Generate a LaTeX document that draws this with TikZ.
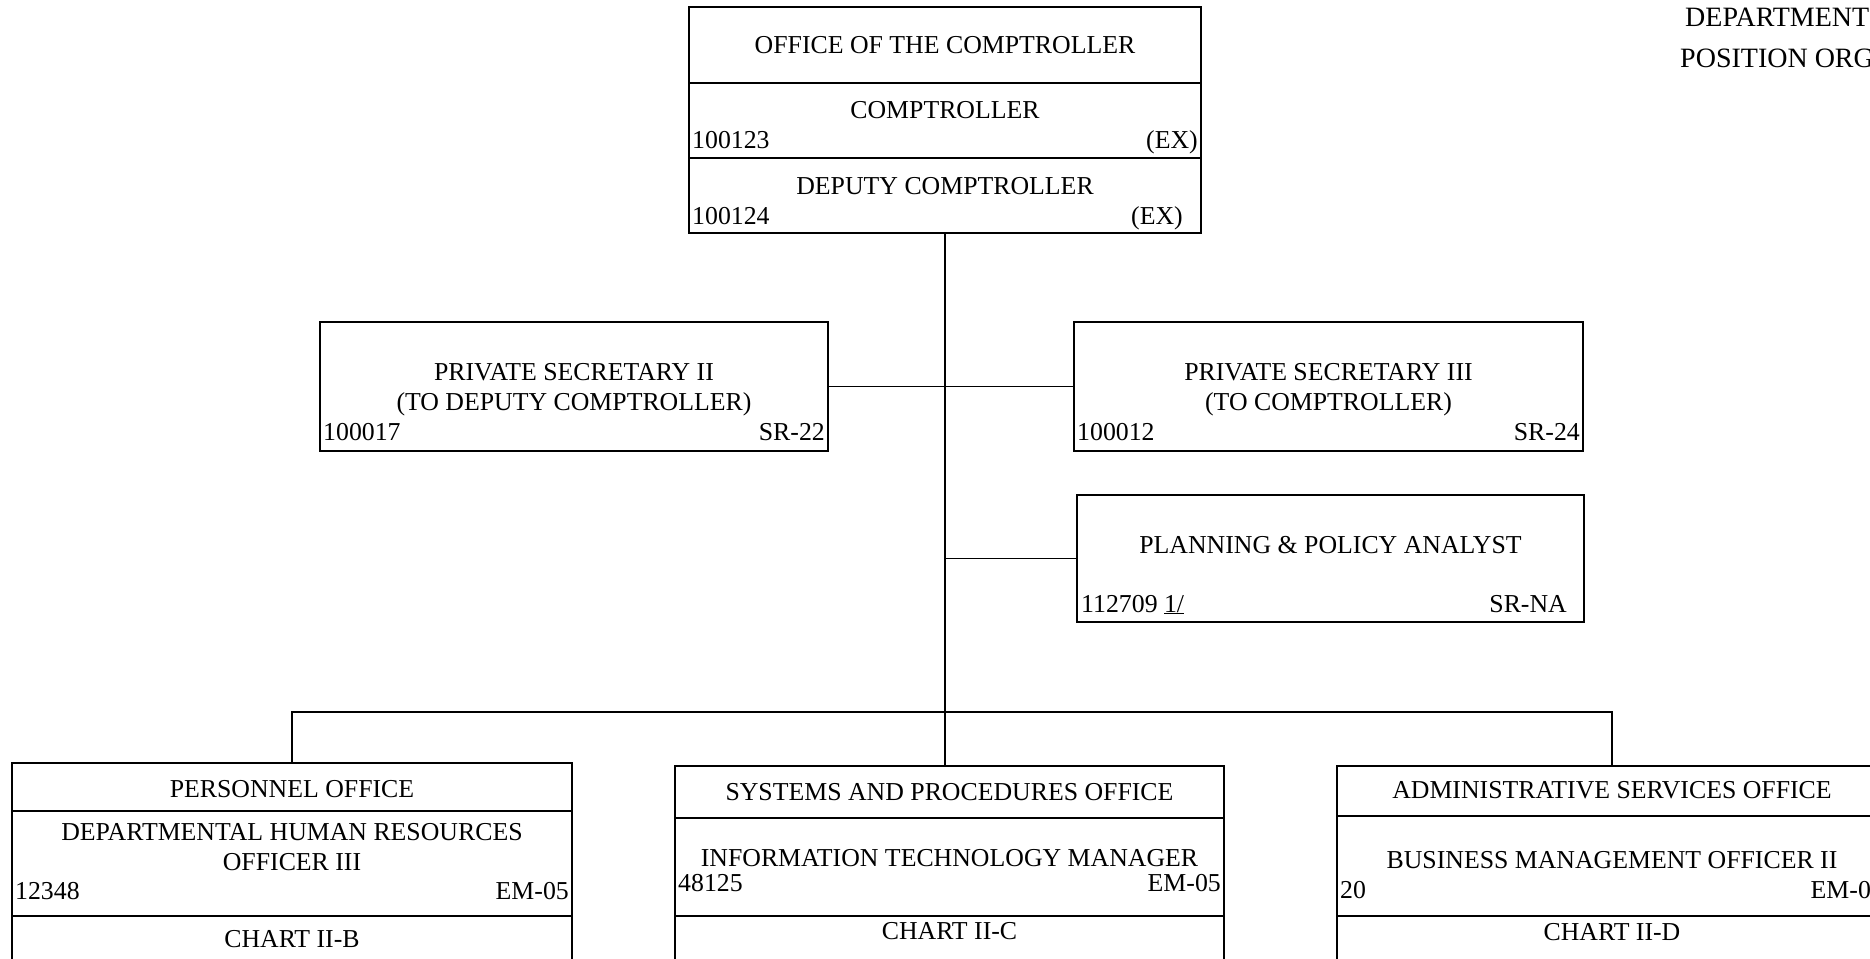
\documentclass[tikz,border=0pt]{standalone}
\usepackage{fontspec}
\setmainfont{Liberation Serif}
\usetikzlibrary{positioning}
\tikzstyle{block} = [rectangle, draw, line width=1.5pt, inner sep=0pt]
\tikzstyle{line} = [draw, line width=1.5pt]
\tikzstyle{txt} = [inner sep=0pt, anchor=base, font=\fontsize{25.8pt}{28pt}\selectfont]
\tikzstyle{code} = [txt, anchor=base west]
\tikzstyle{grade} = [txt, anchor=base east]
\tikzstyle{title} = [code, font=\fontsize{28pt}{30pt}\selectfont]

\begin{document}
\begin{tikzpicture}[x=1pt, y=-1pt]

    \useasboundingbox (0,0) rectangle (1870,958);
    \clip (0,0) rectangle (1870,958);

    % Place nodes
    \node [block, minimum width=512pt, minimum height=226pt] (office) at (945,120) {};
    \node [block, minimum width=508pt, minimum height=129pt] (sec2) at (574,386.5) {};
    \node [block, minimum width=509pt, minimum height=129pt] (sec3) at (1328.5,386.5) {};
    \node [block, minimum width=507pt, minimum height=127pt] (analyst) at (1330.5,558.5) {};
    \node [block, minimum width=560pt, minimum height=237pt] (personnel) at (292,881.5) {};
    \node [block, minimum width=549pt, minimum height=234pt] (systems) at (949.5,883) {};
    \node [block, minimum width=550pt, minimum height=234pt] (admin) at (1612,883) {};

    % Title
    \node [title] (dept) at (1685,27) {DEPARTMENT};
    \node [title] (chart) at (1680,67) {POSITION ORG};

    % Office of the comptroller
    \path [line] (office.west |- 0,83) -- (office.east |- 0,83);
    \path [line] (office.west |- 0,158) -- (office.east |- 0,158);
    \node [txt] (officeT) at (945,54) {OFFICE OF THE COMPTROLLER};
    \node [txt] (compT) at (945,118) {COMPTROLLER};
    \node [code] (compN) at (692,148) {100123};
    \node [grade] (compG) at (1198,148) {(EX)};
    \node [txt] (deputyT) at (945,194) {DEPUTY COMPTROLLER};
    \node [code] (deputyN) at (692,224) {100124};
    \node [grade] (deputyG) at (1183,224) {(EX)};

    % Private secretaries
    \node [txt] (sec2T) at (574,380) {PRIVATE SECRETARY II};
    \node [txt] (sec2S) at (574,410) {(TO DEPUTY COMPTROLLER)};
    \node [code] (sec2N) at (323,440) {100017};
    \node [grade] (sec2G) at (825,440) {SR-22};
    \node [txt] (sec3T) at (1328.5,380) {PRIVATE SECRETARY III};
    \node [txt] (sec3S) at (1328.5,410) {(TO COMPTROLLER)};
    \node [code] (sec3N) at (1077,440) {100012};
    \node [grade] (sec3G) at (1580,440) {SR-24};

    % Planning and policy
    \node [txt] (analystT) at (1330.5,553) {PLANNING \& POLICY ANALYST};
    \node [code] (analystN) at (1081,612) {112709 \underline{1/}};
    \node [grade] (analystG) at (1567,612) {SR-NA};

    % Personnel office
    \path [line] (personnel.west |- 0,811) -- (personnel.east |- 0,811);
    \path [line] (personnel.west |- 0,916) -- (personnel.east |- 0,916);
    \node [txt] (personnelT) at (292,797) {PERSONNEL OFFICE};
    \node [txt] (hrT) at (292,840) {DEPARTMENTAL HUMAN RESOURCES};
    \node [txt] (hrS) at (292,870) {OFFICER III};
    \node [code] (hrN) at (15,899) {12348};
    \node [grade] (hrG) at (569,899) {EM-05};
    \node [txt] (personnelC) at (292,947) {CHART II-B};

    % Systems and procedures office
    \path [line] (systems.west |- 0,818) -- (systems.east |- 0,818);
    \path [line] (systems.west |- 0,916) -- (systems.east |- 0,916);
    \node [txt] (systemsT) at (949.5,800) {SYSTEMS AND PROCEDURES OFFICE};
    \node [txt] (itT) at (949.5,866) {INFORMATION TECHNOLOGY MANAGER};
    \node [code] (itN) at (678,891) {48125};
    \node [grade] (itG) at (1221,891) {EM-05};
    \node [txt] (systemsC) at (949.5,939) {CHART II-C};

    % Administrative services office
    \path [line] (admin.west |- 0,816) -- (admin.east |- 0,816);
    \path [line] (admin.west |- 0,916) -- (admin.east |- 0,916);
    \node [txt] (adminT) at (1612,798) {ADMINISTRATIVE SERVICES OFFICE};
    \node [txt] (bmT) at (1612,868) {BUSINESS MANAGEMENT OFFICER II};
    \node [code] (bmN) at (1340,898) {20};
    \node [grade] (bmG) at (1884,898) {EM-07};
    \node [txt] (adminC) at (1612,940) {CHART II-D};

    % Draw edges
    \coordinate (bus) at (946,712);
    \path [line] (office.south) -- (office.south |- systems.north);
    \path [line] (sec2.east) -- (sec3.west);
    \path [line] (office.south |- analyst.west) -- (analyst.west);
    \path [line] (personnel.north) -- (personnel.north |- bus)
        -- (admin.north |- bus) -- (admin.north);

\end{tikzpicture}
\end{document}
